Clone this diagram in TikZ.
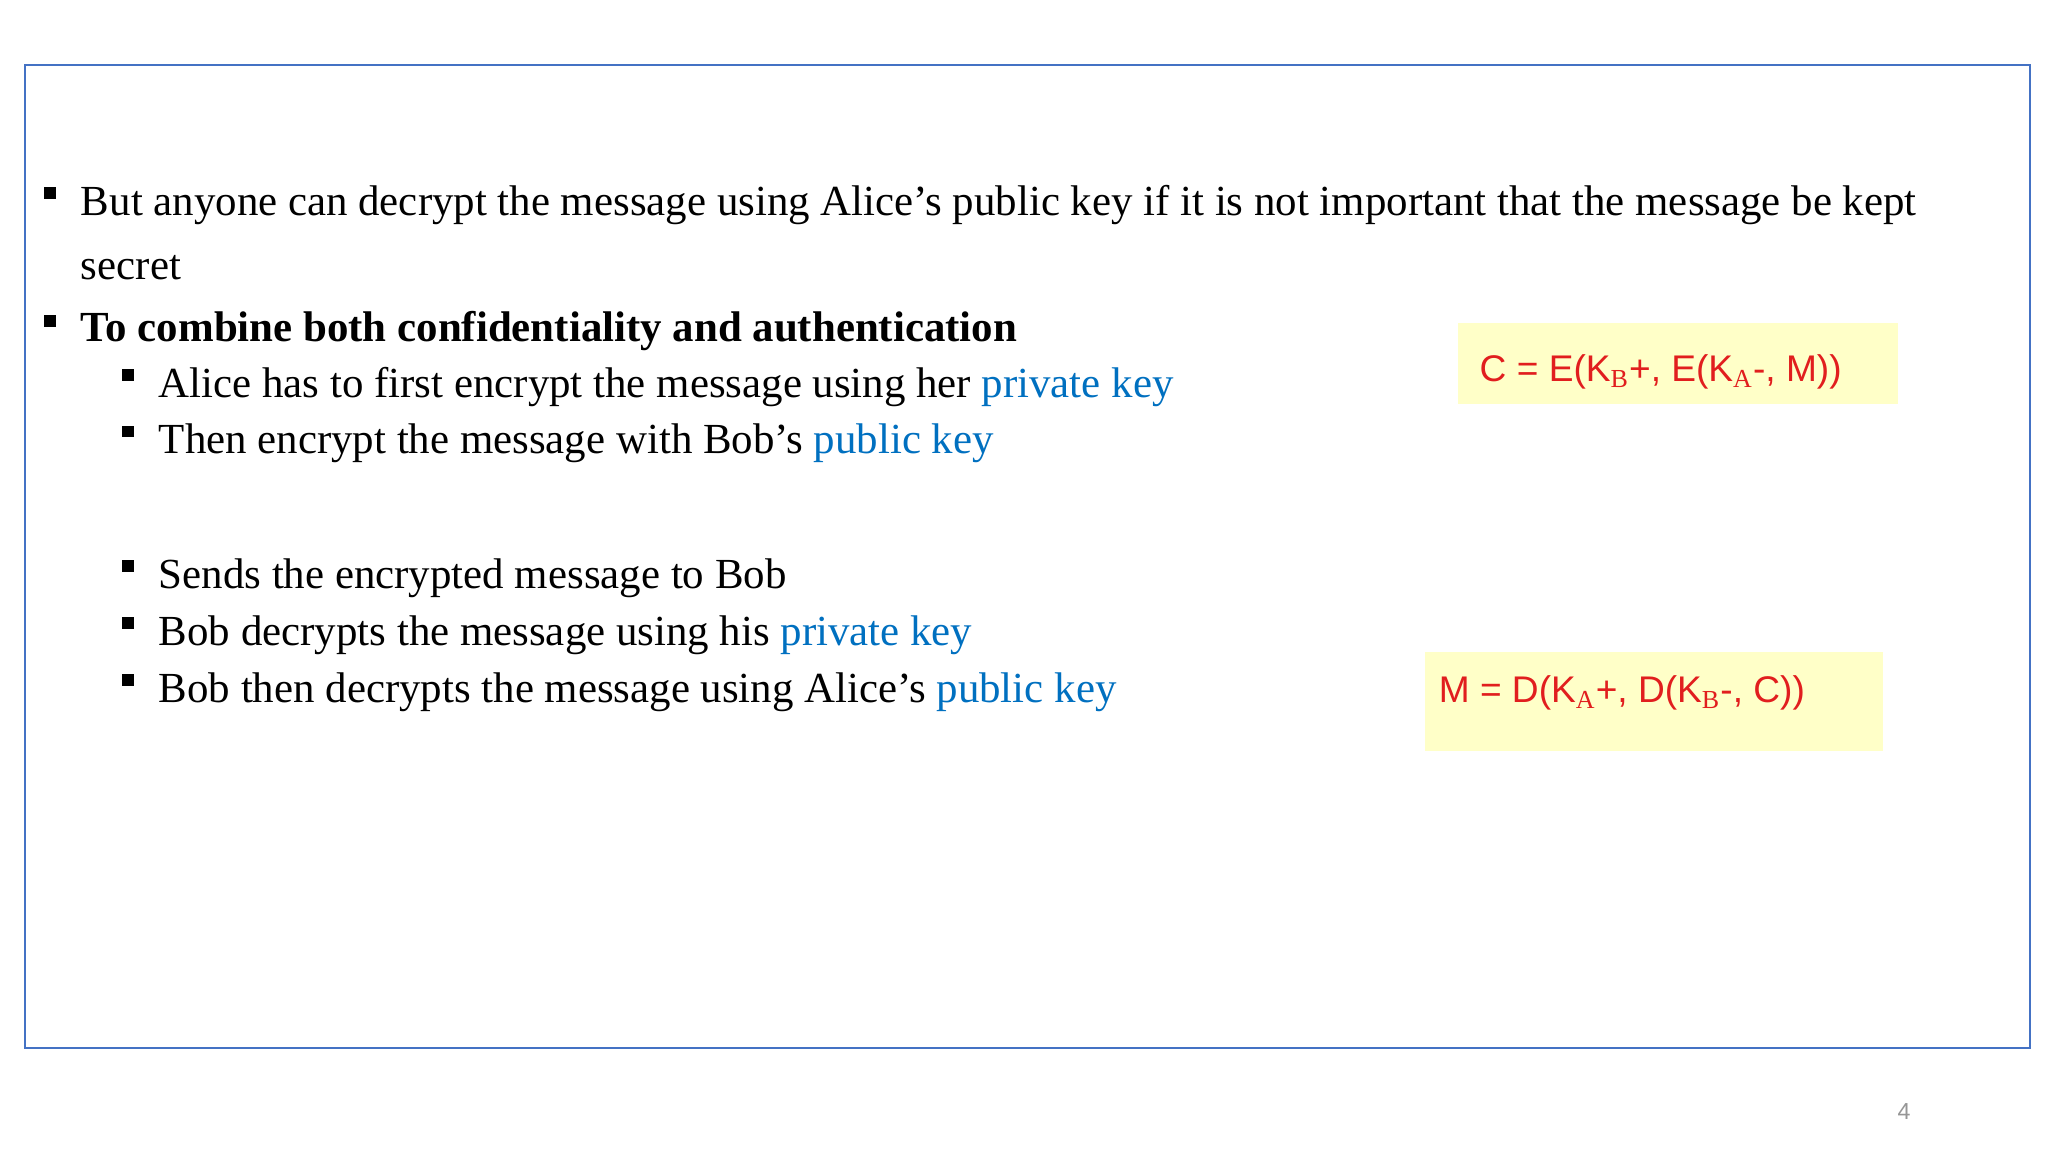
\documentclass[tikz,border=0pt]{standalone}
\usepackage{fontspec}
\setmainfont{Liberation Serif}
\newfontfamily\formfont{Liberation Sans}
\definecolor{frameblue}{RGB}{68,114,196}
\definecolor{keyblue}{RGB}{0,112,192}
\definecolor{formred}{RGB}{225,30,30}
\definecolor{boxyellow}{RGB}{255,255,200}
\definecolor{pagegray}{RGB}{150,150,150}
\tikzset{
  txt/.style={anchor=base west,inner sep=0pt,font=\fontsize{18.5}{22}\selectfont},
  bul/.style={fill=black,minimum size=0.18cm,inner sep=0pt,anchor=center},
  form/.style={anchor=base west,inner sep=0pt,text=formred,font=\formfont\fontsize{16}{19}\selectfont},
  fbox/.style={fill=boxyellow,draw=none}
}
\newcommand{\kb}[1]{\textcolor{keyblue}{#1}}
\begin{document}
\begin{tikzpicture}[x=0.02cm,y=-0.02cm]
\useasboundingbox (0,0) rectangle (1552,873);
\fill[white] (0,0) rectangle (1552,873);
\draw[frameblue,line width=0.9pt] (19,49) rectangle (1538,794);
% bullets
\node[bul] (b1) at (38,146) {};
\node[bul] (b2) at (38,243) {};
\node[bul] (b3) at (97,284) {};
\node[bul] (b4) at (97,327) {};
\node[bul] (b5) at (97,429) {};
\node[bul] (b6) at (97,472) {};
\node[bul] (b7) at (97,515) {};
% text
\node[txt] (t1) at (61,163) {But anyone can decrypt the message using Alice’s public key if it is not important that the message be kept};
\node[txt] (t1b) at (61,212) {secret};
\node[txt] (t2) at (61,259) {\textbf{To combine both confidentiality and authentication}};
\node[txt] (t3) at (120,301) {Alice has to first encrypt the message using her \kb{private key}};
\node[txt] (t4) at (120,344) {Then encrypt the message with Bob’s \kb{public key}};
\node[txt] (t5) at (120,446) {Sends the encrypted message to Bob};
\node[txt] (t6) at (120,489) {Bob decrypts the message using his \kb{private key}};
\node[txt] (t7) at (120,532) {Bob then decrypts the message using Alice’s \kb{public key}};
% formulas
\fill[fbox] (1105,245) rectangle (1438,306);
\node[form] (f1) at (1121,289) {C = E(K$_{\mathrm{B}}$+, E(K$_{\mathrm{A}}$-, M))};
\fill[fbox] (1080,494) rectangle (1427,569);
\node[form] (f2) at (1090,532) {M = D(K$_{\mathrm{A}}$+, D(K$_{\mathrm{B}}$-, C))};
\node[anchor=center,text=pagegray,font=\formfont\fontsize{10}{12}\selectfont] (pg) at (1443,842) {4};
\end{tikzpicture}
\end{document}
